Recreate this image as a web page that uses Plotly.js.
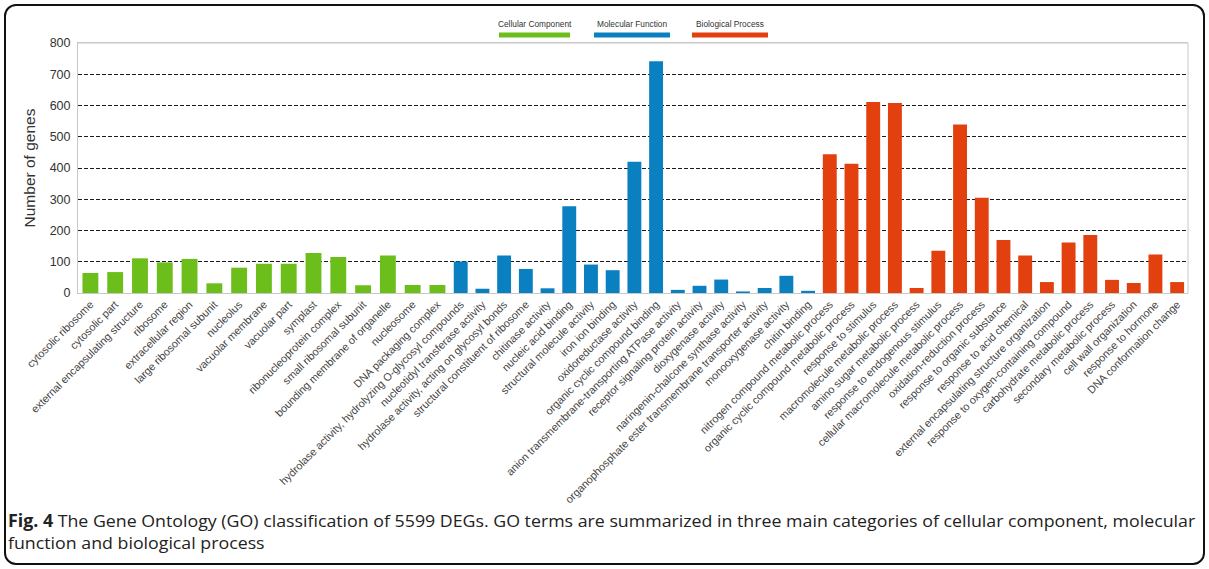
<!DOCTYPE html>
<html>
<head>
<meta charset="utf-8">
<script src="https://cdn.plot.ly/plotly-3.0.1.min.js"></script>
<style>
html,body{margin:0;padding:0;background:#fff;}
#wrap{position:relative;width:1209px;height:569px;overflow:hidden;}
#frame{position:absolute;left:4px;top:4px;width:1197px;height:557px;border:2px solid #111;border-radius:12px;pointer-events:none;z-index:5;}
#chart{position:absolute;left:0;top:0;width:1209px;height:569px;}
.cap{position:absolute;left:8px;white-space:nowrap;font-family:"Open Sans","Noto Sans",sans-serif;font-size:17px;color:#222;transform-origin:0 50%;line-height:20px;z-index:6;}
</style>
</head>
<body>
<div id="wrap"><div id="chart"></div><div id="frame"></div>
<div class="cap" id="cap1" style="top:511px"><b>Fig. 4</b> The Gene Ontology (GO) classification of 5599 DEGs. GO terms are summarized in three main categories of cellular component, molecular</div>
<div class="cap" id="cap2" style="top:533px">function and biological process</div>
</div>
<script>
var ccTerms = ["cytosolic ribosome","cytosolic part","external encapsulating structure","ribosome","extracellular region","large ribosomal subunit","nucleolus","vacuolar membrane","vacuolar part","symplast","ribonucleoprotein complex","small ribosomal subunit","bounding membrane of organelle","nucleosome","DNA packaging complex"];
var ccValues = [64,67,111,98,109,31,81,94,94,128,115,25,120,26,26];

var mfTerms = ["hydrolase activity, hydrolyzing O-glycosyl compounds","nucleotidyl transferase activity","hydrolase activity, acting on glycosyl bonds","structural constituent of ribosome","chitinase activity","nucleic acid binding","structural molecule activity","iron ion binding","oxidoreductase activity","organic cyclic compound binding","anion transmembrane-transporting ATPase activity","receptor signaling protein activity","dioxygenase activity","naringenin-chalcone synthase activity","organophosphate ester transmembrane transporter activity","monooxygenase activity","chitin binding"];
var mfValues = [101,14,120,77,15,278,91,73,420,742,10,23,43,5,16,55,7];

var bpTerms = ["nitrogen compound metabolic process","organic cyclic compound metabolic process","response to stimulus","macromolecule metabolic process","amino sugar metabolic process","response to endogenous stimulus","cellular macromolecule metabolic process","oxidation-reduction process","response to organic substance","response to acid chemical","external encapsulating structure organization","response to oxygen-containing compound","carbohydrate metabolic process","secondary metabolic process","cell wall organization","response to hormone","DNA conformation change"];
var bpValues = [444,414,611,608,16,135,539,305,170,120,35,162,186,42,32,123,35];

var yTicks = [0,100,200,300,400,500,600,700,800];
var seriesNames = ["Cellular Component","Molecular Function","Biological Process"];
var colors = ["#6cbf1a","#0a80c0","#e2400e"];

var traces = [
  {type:"bar", x:ccTerms, y:ccValues, xaxis:"x", yaxis:"y", marker:{color:colors[0]}, name:seriesNames[0], showlegend:false},
  {type:"bar", x:mfTerms, y:mfValues, xaxis:"x2", yaxis:"y", marker:{color:colors[1]}, name:seriesNames[1], showlegend:false},
  {type:"bar", x:bpTerms, y:bpValues, xaxis:"x2", yaxis:"y", marker:{color:colors[2]}, name:seriesNames[2], showlegend:false}
];

var split = 0.335;
var tickFont = {family:"Liberation Sans, Arial, sans-serif", size:10.8, color:"#444"};
var xCommon = {type:"category", tickmode:"linear", dtick:1, tick0:0, tickangle:-45, tickfont:tickFont,
  showgrid:false, zeroline:false, showline:true, linecolor:"#c8c8c8", linewidth:1, ticks:"", anchor:"y", fixedrange:true};

var legendX = [[499,570],[594,670],[692,768]];
var shapes = [];
var annotations = [];
for (var i=0;i<3;i++){
  shapes.push({type:"line", xref:"paper", yref:"paper",
    x0:(legendX[i][0]-78)/1110, x1:(legendX[i][1]-78)/1110, y0:(293-35)/250, y1:(293-35)/250,
    line:{color:colors[i], width:5}});
  annotations.push({xref:"paper", yref:"paper", x:((legendX[i][0]+legendX[i][1])/2-78)/1110, y:(293-24)/250,
    text:seriesNames[i], showarrow:false, xanchor:"center", yanchor:"middle",
    font:{family:"Liberation Sans, Arial, sans-serif", size:8.3, color:"#333"}});
}

var layout = {
  width:1209, height:569,
  margin:{l:78, r:21, t:43, b:276, pad:0},
  paper_bgcolor:"#fff", plot_bgcolor:"#fff",
  barmode:"overlay", bargap:0.36,
  showlegend:false,
  xaxis: Object.assign({}, xCommon, {domain:[0, split], mirror:true}),
  xaxis2: Object.assign({}, xCommon, {domain:[split, 1], mirror:true}),
  yaxis: {range:[0,800], tickmode:"array", tickvals:yTicks, ticktext:yTicks.map(String),
    showgrid:true, gridcolor:"#1a1a1a", gridwidth:1, griddash:"4px,2px",
    zeroline:false, showline:true, linecolor:"#c8c8c8", linewidth:1, mirror:false, ticks:"",
    tickfont:{family:"Liberation Sans, Arial, sans-serif", size:12.5, color:"#333"},
    ticklabelstandoff:4,
    title:{text:"Number of genes", font:{family:"Liberation Sans, Arial, sans-serif", size:15.5, color:"#333"}, standoff:10},
    fixedrange:true},
  shapes: shapes.concat([
    {type:"line", xref:"paper", yref:"paper", x0:0, x1:1, y0:1, y1:1, line:{color:"#c8c8c8", width:1}},
    {type:"line", xref:"paper", yref:"paper", x0:1, x1:1, y0:0, y1:1, line:{color:"#c8c8c8", width:1}}
  ]),
  annotations: annotations
};

Plotly.newPlot("chart", traces, layout, {displayModeBar:false, staticPlot:true});

var c1 = document.getElementById("cap1");
var s = 1187 / c1.scrollWidth;
c1.style.transform = "scaleX(" + s + ")";
document.getElementById("cap2").style.transform = "scaleX(" + s + ")";
</script>
</body>
</html>
